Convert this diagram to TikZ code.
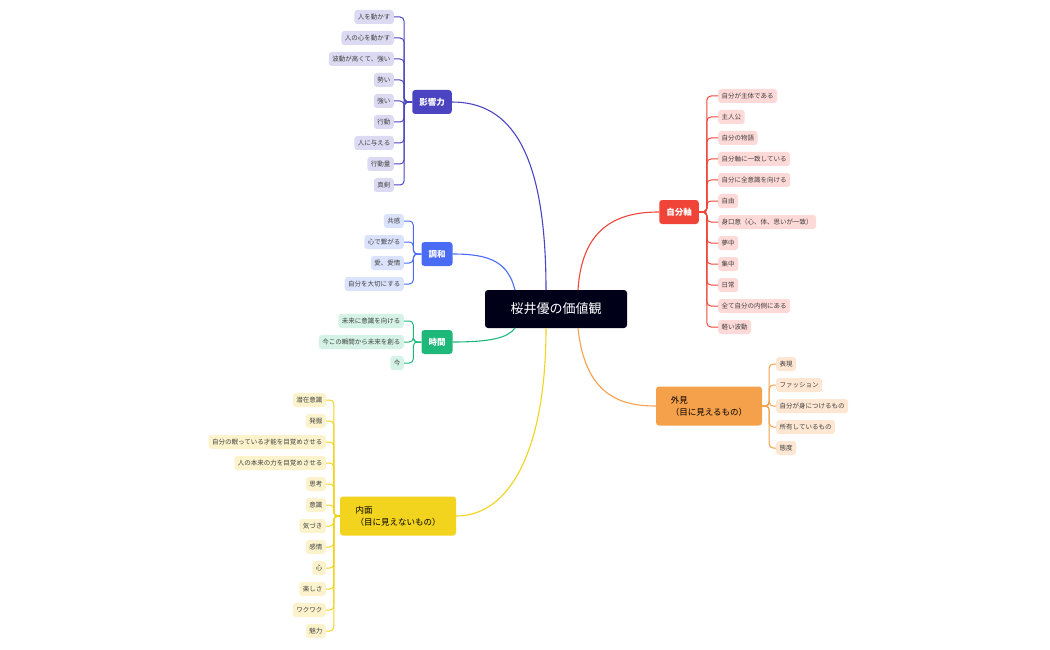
\documentclass[tikz,border=0pt]{standalone}
\usepackage{fontspec}
\setmainfont{Noto Sans CJK JP}
\begin{document}
\begin{tikzpicture}[x=1pt,y=-1pt,
 leaf/.style={fill=#1,rounded corners=3pt,inner xsep=3.5pt,inner ysep=0pt,minimum height=14pt,font=\fontsize{6.5}{8}\selectfont,text=black!75},
 main/.style={fill=#1,rounded corners=3pt,text=white,font=\fontsize{8.5}{11}\selectfont\bfseries,minimum height=24pt,inner xsep=7pt},
 br/.style={draw=#1,line width=1pt,rounded corners=4pt},
 lk/.style={draw=#1,line width=1.1pt}]
\useasboundingbox (0,0) rectangle (1050,650);
\definecolor{cP}{HTML}{4B44C0}\definecolor{lP}{HTML}{DCDAF2}
\definecolor{cB}{HTML}{4A6CF5}\definecolor{lB}{HTML}{DBE2FC}
\definecolor{cG}{HTML}{1DB87A}\definecolor{lG}{HTML}{D4F3E6}
\definecolor{cY}{HTML}{F2D31E}\definecolor{lY}{HTML}{FCF3CC}
\definecolor{cR}{HTML}{F04438}\definecolor{lR}{HTML}{FDD9D7}
\definecolor{cO}{HTML}{F5A04A}\definecolor{lO}{HTML}{FDE6D2}
\node[fill=black!90!blue,rounded corners=3pt,text=white,font=\fontsize{13}{16}\selectfont,minimum width=142pt,minimum height=38pt] (c) at (556,309) {桜井優の価値観};
\node[main=cP] (p) at (432,102) {影響力};
\node[main=cB] (b) at (437,254) {調和};
\node[main=cG] (g) at (437,342) {時間};
\node[main=cY,text=black,align=left,minimum width=116pt,minimum height=39pt,font=\fontsize{8.5}{12}\selectfont] (y) at (398,516) {内面\\（目に見えないもの）};
\node[main=cR] (r) at (679,212) {自分軸};
\node[main=cO,text=black,align=left,minimum width=106pt,minimum height=39pt,font=\fontsize{8.5}{12}\selectfont] (o) at (709,406) {外見\\（目に見えるもの）};
\coordinate (s1) at (546,290);\coordinate (s2) at (515,290);\coordinate (s3) at (515,328);
\coordinate (s4) at (546,328);\coordinate (s5) at (578,290);\coordinate (s6) at (578,328);
\draw[lk=cP] (s1) .. controls (546,150) and (510,102) .. (p.east);
\draw[lk=cB] (s2) .. controls (508,262) and (490,254) .. (b.east);
\draw[lk=cG] (s3) .. controls (508,338) and (490,342) .. (g.east);
\draw[lk=cY] (s4) .. controls (546,450) and (510,516) .. (y.east);
\draw[lk=cR] (s5) .. controls (582,225) and (620,212) .. (r.west);
\draw[lk=cO] (s6) .. controls (585,395) and (620,406) .. (o.west);
\foreach \t [count=\i] in {人を動かす,人の心を動かす,{波動が高くて、強い},勢い,強い,行動,人に与える,行動量,真剣}{
 \node[leaf=lP,anchor=east] (pl\i) at (394,{17+21*(\i-1)}) {\t};
 \draw[br=cP] (p.west) -- ++(-8,0) |- (pl\i.east);}
\foreach \t [count=\i] in {共感,心で繋がる,{愛、愛情},自分を大切にする}{
 \node[leaf=lB,anchor=east] (bl\i) at (404,{221+21*(\i-1)}) {\t};
 \draw[br=cB] (b.west) -- ++(-8,0) |- (bl\i.east);}
\foreach \t [count=\i] in {未来に意識を向ける,今この瞬間から未来を創る,今}{
 \node[leaf=lG,anchor=east] (gl\i) at (404,{321+21*(\i-1)}) {\t};
 \draw[br=cG] (g.west) -- ++(-8,0) |- (gl\i.east);}
\foreach \t [count=\i] in {潜在意識,発掘,自分の眠っている才能を目覚めさせる,人の本来の力を目覚めさせる,思考,意識,気づき,感情,心,楽しさ,ワクワク,魅力}{
 \node[leaf=lY,anchor=east] (yl\i) at (326,{400+21*(\i-1)}) {\t};
 \draw[br=cY] (y.west) -- ++(-6,0) |- (yl\i.east);}
\foreach \t [count=\i] in {自分が主体である,主人公,自分の物語,自分軸に一致している,自分に全意識を向ける,自由,{身口意（心、体、思いが一致）},夢中,集中,日常,全て自分の内側にある,軽い波動}{
 \node[leaf=lR,anchor=west] (rl\i) at (718,{96+21*(\i-1)}) {\t};
 \draw[br=cR] (r.east) -- ++(8,0) |- (rl\i.west);}
\foreach \t [count=\i] in {表現,ファッション,自分が身につけるもの,所有しているもの,態度}{
 \node[leaf=lO,anchor=west] (ol\i) at (776,{364+21*(\i-1)}) {\t};
 \draw[br=cO] (o.east) -- ++(7,0) |- (ol\i.west);}
\end{tikzpicture}
\end{document}
